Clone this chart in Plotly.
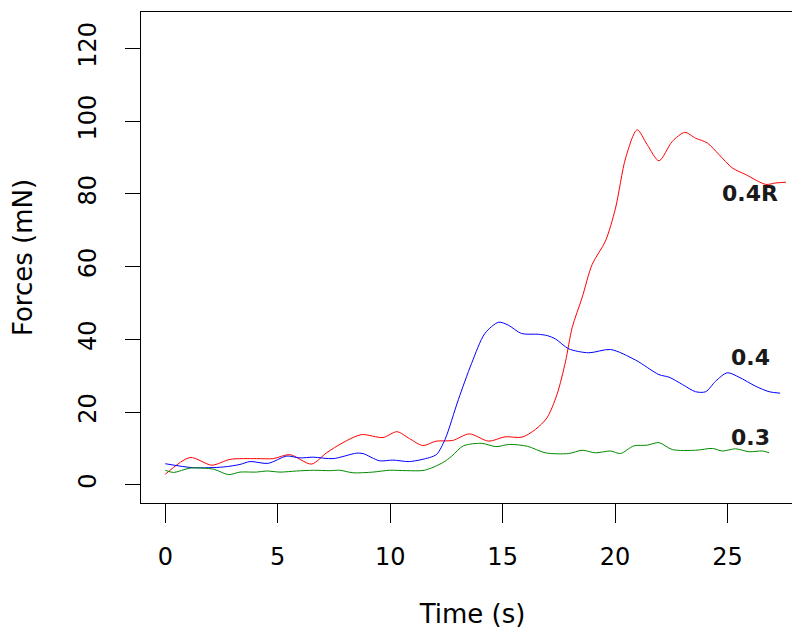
import plotly.graph_objects as go

# Time (s) and force (mN) traces
t_red = [0, 1.1, 2.07, 2.88, 4.06, 4.8, 5.54, 6.5, 7.17, 7.9, 8.72, 9.68, 10.3, 10.86, 11.45, 12.04,
         12.78, 13.52, 14.38, 15.1, 15.86, 16.45, 16.97, 17.42, 17.8, 18.09, 18.53, 18.98, 19.57,
         20.02, 20.47, 20.98, 21.43, 21.95, 22.54, 23.1, 23.58, 24.1, 24.62, 25.22, 25.81, 26.7,
         27.15, 27.6]
f_red = [2.9, 7.5, 5.4, 7.0, 7.2, 7.2, 8.3, 5.7, 8.8, 11.6, 13.8, 13.0, 14.6, 12.7, 10.8, 12.0,
         12.2, 14.0, 12.0, 13.2, 13.1, 15.2, 18.4, 24.9, 34.0, 43.2, 51.4, 60.6, 67.0,
         76.1, 89.9, 97.6, 93.5, 89.1, 94.4, 96.9, 95.3, 94.0, 90.8, 87.1, 85.3, 82.6,
         83.0, 83.2]

t_blue = [0, 1.26, 2.58, 3.32, 3.77, 4.58, 5.39, 5.98, 6.58, 7.46, 8.5, 8.79, 9.53, 10.12, 10.86,
          11.75, 12.07, 12.44, 13.03, 13.62, 14.21, 14.82, 15.25, 15.84, 16.58, 17.0, 17.35,
          17.94, 18.83, 19.8, 20.91, 21.95, 22.4, 22.99, 23.58, 24.03, 24.47, 24.99, 25.51,
          26.25, 26.85, 27.34]
f_blue = [5.8, 4.7, 4.9, 5.6, 6.4, 5.9, 7.9, 7.4, 7.6, 7.2, 8.7, 8.6, 6.6, 6.8, 6.4,
          7.5, 8.4, 12.5, 23.4, 33.4, 41.6, 44.7, 43.9, 41.6, 41.4, 41.0, 40.1,
          37.4, 36.3, 37.2, 34.3, 30.3, 29.6, 27.6, 25.6, 25.6, 28.5, 30.8, 29.6,
          27.1, 25.6, 25.2]

t_green = [0, 0.37, 1.11, 2.14, 2.81, 3.32, 4.06, 4.5, 5.1, 5.84, 6.58, 7.31, 7.76, 8.35, 9.23,
           9.97, 10.71, 11.52, 12.34, 12.74, 13.25, 14.07, 14.7, 15.3, 16.1, 16.9, 17.94,
           18.53, 19.13, 19.8, 20.24, 20.83, 21.43, 21.95, 22.54, 23.58, 24.33, 24.77, 25.36,
           25.96, 26.55, 26.85]
f_green = [4.0, 3.4, 4.6, 4.3, 2.8, 3.5, 3.5, 3.8, 3.5, 3.8, 4.0, 3.9, 4.0, 3.3, 3.5,
           4.0, 3.9, 4.0, 6.1, 7.9, 10.7, 11.4, 10.5, 11.1, 10.6, 8.8, 8.6,
           9.5, 8.8, 9.3, 8.6, 10.7, 10.9, 11.6, 9.7, 9.5, 10.0, 9.3, 9.9,
           9.1, 9.3, 8.8]

series_labels = ["0.4R", "0.4", "0.3"]
label_x = [26.0, 26.0, 26.0]
label_y = [80.0, 35.0, 13.0]

x_ticks = [0, 5, 10, 15, 20, 25]
y_ticks = [0, 20, 40, 60, 80, 100, 120]

FONT = "DejaVu Sans"

fig = go.Figure()
for t, f, col in [(t_red, f_red, "#FF0000"), (t_blue, f_blue, "#0000FF"), (t_green, f_green, "#008B00")]:
    fig.add_trace(go.Scatter(x=t, y=f, mode="lines", line=dict(color=col, width=1, shape="spline", smoothing=0.8),
                             showlegend=False, hoverinfo="skip"))

for txt, lx, ly in zip(series_labels, label_x, label_y):
    fig.add_annotation(x=lx, y=ly, text="<b>%s</b>" % txt, showarrow=False,
                       font=dict(family=FONT, size=22, color="#1a1a1a"), xanchor="center", yanchor="middle")

fig.update_layout(
    width=800, height=633,
    margin=dict(l=132, r=3, t=3, b=138),
    paper_bgcolor="white", plot_bgcolor="white",
    font=dict(family=FONT, size=24, color="black"),
    xaxis=dict(range=[-1.08, 28.4], tickvals=x_ticks, ticktext=[str(v) for v in x_ticks],
               showgrid=False, zeroline=False, showline=True, mirror=True, linecolor="black", linewidth=1,
               ticks="outside", ticklen=19, tickcolor="black", tickwidth=1, ticklabelstandoff=13,
               tickfont=dict(family=FONT, size=24),
               title=dict(text="Time (s)", font=dict(family=FONT, size=26), standoff=35)),
    yaxis=dict(range=[-5, 130], tickvals=y_ticks, ticktext=[str(v) for v in y_ticks],
               showgrid=False, zeroline=False, showline=True, mirror=True, linecolor="black", linewidth=1,
               ticks="outside", ticklen=15, tickcolor="black", tickwidth=1, tickangle=-90, ticklabelstandoff=19,
               tickfont=dict(family=FONT, size=24),
               title=dict(text="Forces (mN)", font=dict(family=FONT, size=26), standoff=45)),
)

fig.write_html("out.html")
